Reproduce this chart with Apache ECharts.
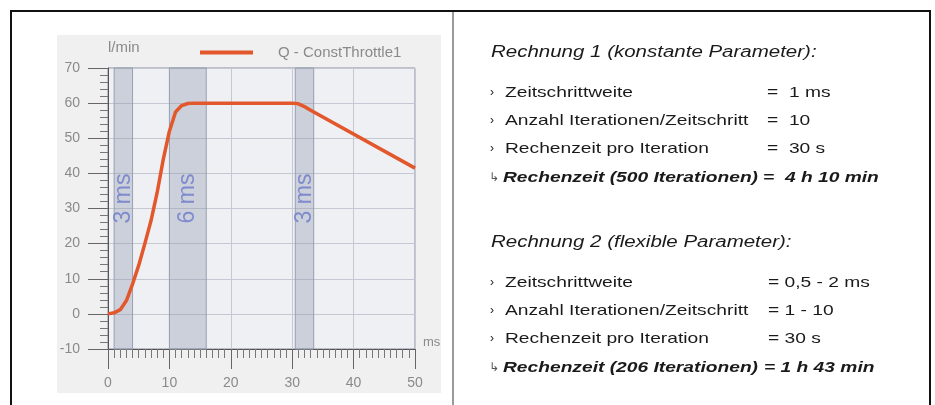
<!DOCTYPE html>
<html>
<head>
<meta charset="utf-8">
<script src="https://cdn.jsdelivr.net/npm/echarts@6/dist/echarts.min.js"></script>
<style>
  html, body { margin: 0; padding: 0; background: #fff; }
  #chart { width: 935px; height: 405px; }
</style>
</head>
<body>
<div id="chart"></div>
<script>
// curve Q - ConstThrottle1 (l/min over ms)
const timeMs = [0, 1, 2, 3, 4, 5, 6, 7, 8, 9, 10, 11, 12, 13, 14, 30, 31, 32, 33, 50]
const flow = [0, 0.3, 1.2, 3.8, 8.5, 13.8, 20, 26.5, 34.5, 44, 52, 57.5, 59.3, 59.9, 60, 60, 59.8, 59, 58, 41.5]

// shaded step-width bands
const bandFrom = [1, 10, 30.5]
const bandTo = [4, 16, 33.5]
const bandLabels = ['3 ms', '6 ms', '3 ms']

// right-hand text block
const calcTitles = ['Rechnung 1 (konstante Parameter):', 'Rechnung 2 (flexible Parameter):']
const rowLabels = ['Zeitschrittweite', 'Anzahl Iterationen/Zeitschritt', 'Rechenzeit pro Iteration']
const calc1Values = ['=  1 ms', '=  10', '=  30 s']
const calc2Values = ['= 0,5 - 2 ms', '= 1 - 10', '= 30 s']
const resultLabels = ['Rechenzeit (500 Iterationen)', 'Rechenzeit (206 Iterationen)']
const resultValues = ['=  4 h 10 min', '= 1 h 43 min']

const chart = echarts.init(document.getElementById('chart'))
const FONT = '"Liberation Sans", Arial, sans-serif'
const SX = 1.28

function txt(x, y, text, opts) {
  opts = opts || {}
  return {
    type: 'text', x: x, y: y, scaleX: opts.sx || SX, z: 10,
    style: {
      text: text,
      fill: opts.fill || '#1a1a1a',
      fontFamily: opts.family || FONT,
      fontSize: opts.size || 15,
      fontStyle: opts.italic ? 'italic' : 'normal',
      fontWeight: opts.bold ? 'bold' : 'normal',
      verticalAlign: 'middle'
    }
  }
}

const blockTop = [53, 243]
const valueX = [767, 768]
const graphics = [
  { type: 'rect', shape: { x: 57, y: 35, width: 384, height: 358 }, style: { fill: '#f0f0f0' }, z: -10 },
  { type: 'rect', shape: { x: 11, y: 11, width: 919, height: 410 }, style: { fill: 'none', stroke: '#111', lineWidth: 2 }, z: 20 },
  { type: 'line', shape: { x1: 453, y1: 12, x2: 453, y2: 405 }, style: { stroke: '#9a9a9a', lineWidth: 2 }, z: 20 }
]
const valuesPerCalc = [calc1Values, calc2Values]
for (let b = 0; b < 2; b++) {
  const y0 = blockTop[b]
  graphics.push(txt(491, y0, calcTitles[b], { italic: true, size: 16 }))
  rowLabels.forEach((lab, i) => {
    const y = y0 + 40 + i * 28
    graphics.push(txt(490, y, '›', { size: 12, sx: 1 }))
    graphics.push(txt(505, y, lab))
    graphics.push(txt(valueX[b], y, valuesPerCalc[b][i]))
  })
  const yr = y0 + 40 + 3 * 28 + 1
  graphics.push(txt(489, yr, '↳', { size: 12, sx: 1, family: '"DejaVu Sans", sans-serif', fill: '#555' }))
  graphics.push(txt(503, yr, resultLabels[b], { italic: true, bold: true }))
  graphics.push(txt(valueX[b] - 4, yr, resultValues[b], { italic: true, bold: true }))
}

const axisText = { color: '#8a8a8a', fontSize: 14, fontFamily: FONT }

chart.setOption({
  animation: false,
  backgroundColor: '#fff',
  grid: {
    left: 108, top: 68, width: 307, height: 281,
    show: true, backgroundColor: '#eef0f4', borderColor: '#8a8e9a', borderWidth: 1
  },
  legend: {
    left: 195, top: 40,
    icon: 'rect', itemWidth: 53, itemHeight: 4,
    textStyle: { color: '#8a8a8a', fontSize: 15, fontFamily: FONT, padding: [0, 0, 0, 20] },
    data: ['Q - ConstThrottle1']
  },
  xAxis: {
    type: 'value', min: 0, max: 50, interval: 10,
    name: 'ms', nameGap: 8,
    nameTextStyle: { color: '#8a8a8a', fontSize: 13, fontFamily: FONT, verticalAlign: 'bottom' },
    axisLine: { onZero: false, lineStyle: { color: '#555', width: 1 } },
    axisTick: { length: 20, lineStyle: { color: '#666' } },
    minorTick: { show: true, splitNumber: 10, length: 9, lineStyle: { color: '#777' } },
    axisLabel: Object.assign({ margin: 27 }, axisText),
    splitLine: { show: true, lineStyle: { color: '#c3c8d3' } }
  },
  yAxis: {
    type: 'value', min: -10, max: 70, interval: 10,
    name: 'l/min', nameGap: 20,
    nameTextStyle: { color: '#8a8a8a', fontSize: 15, fontFamily: FONT, align: 'left', verticalAlign: 'middle' },
    axisLine: { lineStyle: { color: '#555', width: 1 } },
    axisTick: { length: 20, lineStyle: { color: '#666' } },
    minorTick: { show: true, splitNumber: 5, length: 8, lineStyle: { color: '#777' } },
    axisLabel: Object.assign({ margin: 28 }, axisText),
    splitLine: { show: true, lineStyle: { color: '#c3c8d3' } }
  },
  series: [{
    name: 'Q - ConstThrottle1',
    type: 'line',
    data: timeMs.map((t, i) => [t, flow[i]]),
    showSymbol: false,
    color: '#e2582c',
    lineStyle: { width: 3.5, color: '#e2582c', join: 'round' },
    markArea: {
      silent: true,
      itemStyle: { color: 'rgba(140,150,168,0.35)', borderColor: '#98a0b2', borderWidth: 1 },
      label: {
        show: true, position: 'inside', rotate: 90,
        color: '#7f8bcc', fontSize: 23, fontFamily: FONT, offset: [10, 0]
      },
      data: bandFrom.map((f, i) => [{ xAxis: f, name: bandLabels[i] }, { xAxis: bandTo[i] }])
    }
  }],
  graphic: graphics
})
</script>
</body>
</html>
